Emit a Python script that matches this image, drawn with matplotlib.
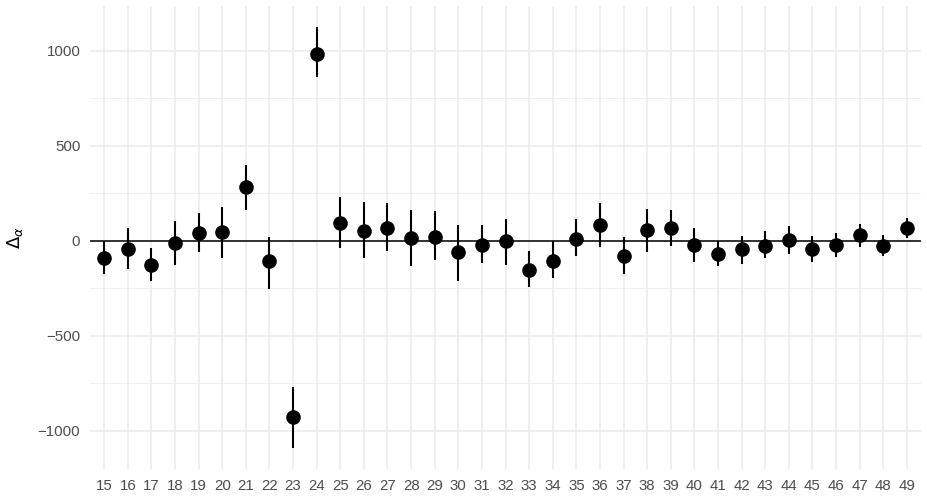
import matplotlib
matplotlib.use("Agg")
import matplotlib.pyplot as plt
from matplotlib.ticker import MultipleLocator

plt.rcParams['font.family'] = ['Liberation Sans', 'DejaVu Sans']

# index, estimate and interval ends
idx = list(range(15, 50))
est = [-91, -44, -126, -12, 40, 49, 282, -108, -926, 985,
       96, 54, 70, 14, 19, -61, -23, -2, -152, -105,
       12, 84, -79, 56, 68, -21, -68, -44, -25, 2,
       -44, -21, 30, -28, 67]
lo = [-175, -149, -213, -126, -61, -93, 163, -254, -1090, 862,
      -40, -89, -51, -131, -103, -212, -119, -126, -243, -196,
      -82, -33, -173, -61, -25, -114, -130, -121, -93, -68,
      -114, -84, -35, -79, 14]
hi = [0, 68, -37, 105, 145, 180, 399, 19, -768, 1125,
      233, 205, 198, 163, 159, 82, 84, 114, -52, 0,
      114, 201, 19, 168, 161, 68, 0, 26, 52, 77,
      26, 42, 88, 31, 122]

fig = plt.figure(figsize=(9.28, 4.98), dpi=100)
ax = fig.add_axes([90 / 928, 1 - 469 / 498, 831 / 928, 463 / 498])

grid = '#EBEBEB'
ax.set_xlim(14.4, 49.6)
ax.set_ylim(-1201, 1236)
ax.set_xticks(idx)
ax.set_xticklabels([str(i) for i in idx])
ax.yaxis.set_minor_locator(MultipleLocator(250))
ax.set_yticks([-1000, -500, 0, 500, 1000])
ax.set_yticklabels(['\u22121000', '\u2212500', '0', '500', '1000'])

ax.grid(True, which='major', color=grid, linewidth=1.1)
ax.grid(True, which='minor', axis='y', color=grid, linewidth=0.55)
ax.set_axisbelow(True)
for s in ax.spines.values():
    s.set_visible(False)
ax.tick_params(which='both', length=0, labelsize=10.8, labelcolor='#4D4D4D')
ax.tick_params(axis='x', pad=7)
ax.tick_params(axis='y', pad=7)

ax.axhline(0, color='black', linewidth=1.1, zorder=2)
ax.vlines(idx, lo, hi, color='black', linewidth=1.5, zorder=3)
ax.plot(idx, est, 'o', color='black', markersize=9.5, zorder=4)

ax.set_ylabel(r'$\Delta_\alpha$', fontsize=13, color='black', labelpad=9)

fig.savefig('out.png', dpi=100)
